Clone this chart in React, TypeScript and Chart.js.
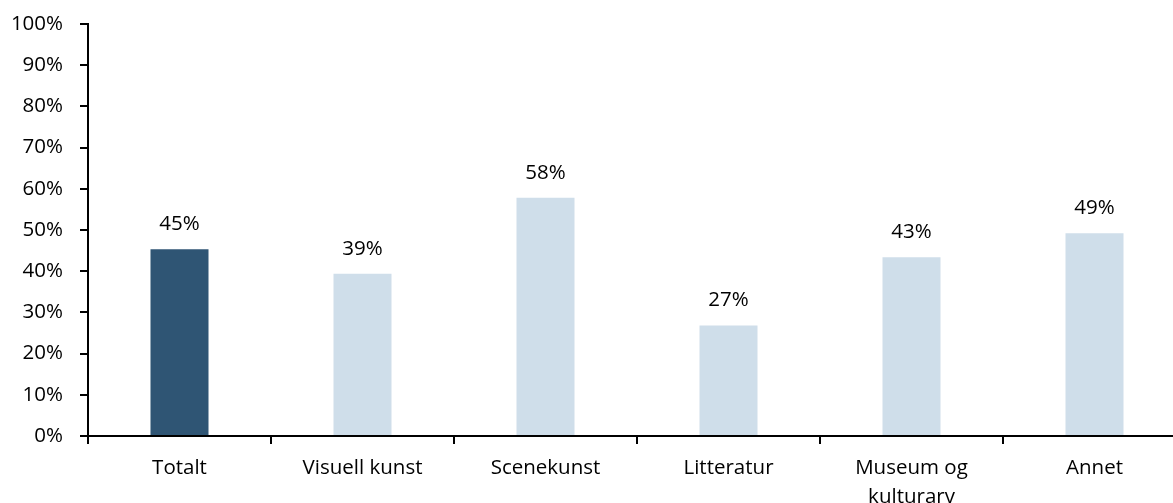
import React, { useEffect, useRef } from "react";
import { Chart, registerables } from "chart.js";

Chart.register(...registerables);

const categories: (string | string[])[] = [
  "Totalt",
  "Visuell kunst",
  "Scenekunst",
  "Litteratur",
  ["Museum og", "kulturarv"],
  "Annet",
];
const values: number[] = [45.3, 39.4, 57.8, 26.8, 43.4, 49.2];
const barColors: string[] = ["#2F5574", "#CFDEEA", "#CFDEEA", "#CFDEEA", "#CFDEEA", "#CFDEEA"];
const yTicks: number[] = [0, 10, 20, 30, 40, 50, 60, 70, 80, 90, 100];

const FONT = "'Open Sans', sans-serif";
const FS = 20.5;

const dataLabelPlugin = {
  id: "dataLabels",
  afterDatasetsDraw(chart: any) {
    const ctx = chart.ctx;
    const meta = chart.getDatasetMeta(0);
    ctx.save();
    ctx.font = `${FS}px ${FONT}`;
    ctx.fillStyle = "#000";
    ctx.textAlign = "center";
    ctx.textBaseline = "middle";
    meta.data.forEach((el: any, i: number) => {
      ctx.fillText(`${Math.round(values[i])}%`, el.x, el.y - 25);
    });
    ctx.restore();
  },
};

export default function App() {
  const ref = useRef<HTMLCanvasElement>(null);
  useEffect(() => {
    if (!ref.current) return;
    const chart = new Chart(ref.current, {
      type: "bar",
      data: {
        labels: categories,
        datasets: [
          {
            data: values,
            backgroundColor: barColors,
            barPercentage: 0.317,
            categoryPercentage: 1,
          },
        ],
      },
      options: {
        animation: false,
        responsive: false,
        maintainAspectRatio: false,
        layout: { padding: { top: 24, right: 4, left: 0, bottom: 0 } },
        plugins: { legend: { display: false }, tooltip: { enabled: false } },
        scales: {
          x: {
            offset: true,
            grid: {
              offset: true,
              drawOnChartArea: false,
              drawTicks: true,
              tickLength: 8,
              color: "#000",
              lineWidth: 2,
            },
            border: { display: true, color: "#000", width: 2 },
            ticks: {
              color: "#000",
              padding: 9,
              maxRotation: 0,
              autoSkip: false,
              font: { family: FONT, size: FS, lineHeight: 1.43 },
            },
            afterFit: (scale: any) => {
              scale.height = 67;
            },
          },
          y: {
            min: 0,
            max: 100,
            afterBuildTicks: (scale: any) => {
              scale.ticks = yTicks.map((v) => ({ value: v }));
            },
            grid: {
              drawOnChartArea: false,
              drawTicks: true,
              tickLength: 8,
              color: "#000",
              lineWidth: 2,
            },
            border: { display: true, color: "#000", width: 2 },
            ticks: {
              color: "#000",
              padding: 17,
              font: { family: FONT, size: FS },
              callback: (v: any) => `${v}%`,
            },
            afterFit: (scale: any) => {
              scale.width = 88;
              scale.paddingTop = 0;
              scale.paddingBottom = 0;
            },
          },
        },
      },
      plugins: [dataLabelPlugin],
    });
    return () => chart.destroy();
  }, []);
  return (
    <div
      style={{
        position: "fixed",
        left: 0,
        top: 0,
        width: 1173,
        height: 503,
        overflow: "hidden",
        background: "#fff",
      }}
    >
      <canvas ref={ref} width={1190} height={503} style={{ display: "block", width: 1190, height: 503 }} />
    </div>
  );
}
